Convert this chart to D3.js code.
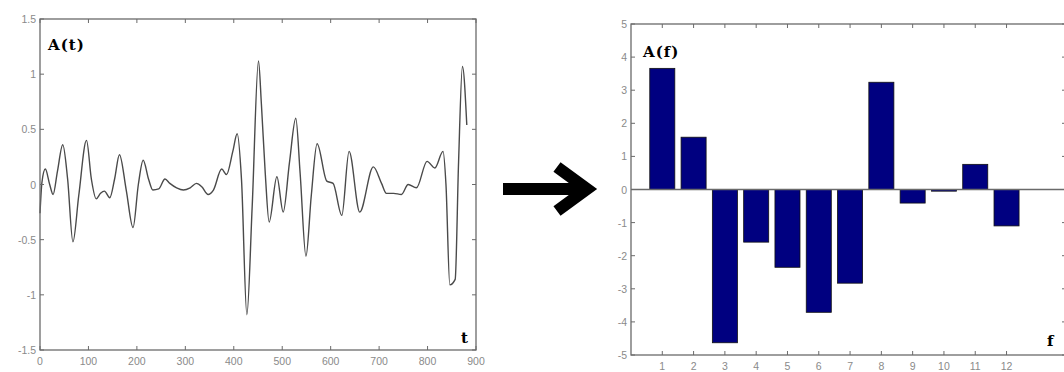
<!DOCTYPE html>
<html>
<head>
<meta charset="utf-8">
<script src="https://cdn.jsdelivr.net/npm/d3@7"></script>
<style>
  body { margin: 0; background: #fff; }
  svg { display: block; }
</style>
</head>
<body>
<svg id="chart" width="1064" height="372"></svg>
<script>
// time signal at its turning points
const timeT = [0, 4, 11, 20, 27, 36, 47, 57, 68, 80, 96, 106, 116, 125, 133, 144, 154, 164, 178, 192, 203, 213, 224, 233, 245, 258, 268, 282, 296, 310, 323, 334, 347, 358, 375, 385, 398, 407, 416, 427, 438, 451, 457, 465, 473, 489, 502, 515, 528, 537, 549, 560, 572, 592, 605, 623, 638, 660, 688, 705, 715, 730, 746, 760, 777, 799, 815, 832, 838, 846, 857, 864, 872, 881]
const timeA = [-0.26, 0.02, 0.14, 0.0, -0.09, 0.12, 0.36, 0.05, -0.52, -0.1, 0.40, 0.05, -0.13, -0.08, -0.06, -0.12, 0.05, 0.27, -0.05, -0.39, 0.0, 0.22, 0.05, -0.05, -0.04, 0.05, 0.01, -0.03, -0.05, -0.03, 0.01, -0.02, -0.09, -0.05, 0.14, 0.09, 0.3, 0.46, 0.04, -1.18, -0.2, 1.12, 0.73, 0.1, -0.34, 0.07, -0.25, 0.2, 0.60, 0.10, -0.65, -0.1, 0.37, 0.03, 0.01, -0.28, 0.30, -0.25, 0.16, 0.01, -0.08, -0.08, -0.09, 0.0, -0.03, 0.21, 0.15, 0.30, 0.0, -0.91, -0.86, 0.2, 1.07, 0.54]

// spectrum bars
const freqs = [1, 2, 3, 4, 5, 6, 7, 8, 9, 10, 11, 12]
const amps = [3.66, 1.58, -4.63, -1.59, -2.35, -3.71, -2.83, 3.24, -0.41, -0.05, 0.76, -1.1]

// tick values
const tTicks = [0, 100, 200, 300, 400, 500, 600, 700, 800, 900]
const atTicks = [-1.5, -1, -0.5, 0, 0.5, 1, 1.5]
const fTicks = [1, 2, 3, 4, 5, 6, 7, 8, 9, 10, 11, 12]
const afTicks = [-5, -4, -3, -2, -1, 0, 1, 2, 3, 4, 5]

const svg = d3.select('#chart')
const axisColor = '#6a6a6a'
const labelColor = '#8a8a8a'

function drawFrame(g, x, y, xt, yt, fmtY) {
    const [x0, x1] = x.range()
    const [y0, y1] = y.range()
    const tk = 4

    g.append('rect')
        .attr('x', x0).attr('y', y1)
        .attr('width', x1 - x0).attr('height', y0 - y1)
        .attr('fill', 'none')
        .attr('stroke', axisColor)
        .attr('stroke-width', 1.3)

    // inside ticks on all four sides
    xt.forEach(v => {
        g.append('line').attr('x1', x(v)).attr('x2', x(v)).attr('y1', y0).attr('y2', y0 - tk).attr('stroke', axisColor)
        g.append('line').attr('x1', x(v)).attr('x2', x(v)).attr('y1', y1).attr('y2', y1 + tk).attr('stroke', axisColor)
        g.append('text')
            .attr('x', x(v)).attr('y', y0 + 15)
            .attr('text-anchor', 'middle')
            .attr('font-family', 'Liberation Sans, sans-serif')
            .attr('font-size', 10.5)
            .attr('fill', labelColor)
            .text(v)
    })
    yt.forEach(v => {
        g.append('line').attr('x1', x0).attr('x2', x0 + tk).attr('y1', y(v)).attr('y2', y(v)).attr('stroke', axisColor)
        g.append('line').attr('x1', x1).attr('x2', x1 - tk).attr('y1', y(v)).attr('y2', y(v)).attr('stroke', axisColor)
        g.append('text')
            .attr('x', x0 - 4).attr('y', y(v) + 4)
            .attr('text-anchor', 'end')
            .attr('font-family', 'Liberation Sans, sans-serif')
            .attr('font-size', 10.5)
            .attr('fill', labelColor)
            .text(fmtY(v))
    })
}

function bigLabel(g, x, y, txt) {
    g.append('text')
        .attr('x', x).attr('y', y)
        .attr('font-family', 'DejaVu Serif, serif')
        .attr('font-weight', 'bold')
        .attr('font-size', 15)
        .attr('letter-spacing', 1)
        .attr('fill', '#000')
        .text(txt)
}

// ---- left panel: A(t)
const xT = d3.scaleLinear().domain([0, 900]).range([40, 476])
const yT = d3.scaleLinear().domain([-1.5, 1.5]).range([350, 19])
const left = svg.append('g')

left.append('path')
    .datum(timeT.map((t, i) => [t, timeA[i]]))
    .attr('fill', 'none')
    .attr('stroke', '#4a4a4a')
    .attr('stroke-width', 1.4)
    .attr('d', d3.line().x(d => xT(d[0])).y(d => yT(d[1])).curve(d3.curveMonotoneX))

drawFrame(left, xT, yT, tTicks, atTicks, v => String(v))
bigLabel(left, 48, 50, 'A(t)')
bigLabel(left, 461, 343, 't')

// ---- arrow
const arrow = svg.append('g').attr('stroke', '#000').attr('fill', 'none').attr('stroke-width', 12)
arrow.append('line').attr('x1', 503).attr('x2', 588).attr('y1', 189).attr('y2', 189)
arrow.append('path')
    .attr('d', 'M557,167 L587,189 L557,211')
    .attr('stroke-linejoin', 'miter')
    .attr('stroke-miterlimit', 10)

// ---- right panel: A(f)
const xF = d3.scaleLinear().domain([0, 13.9]).range([631, 1066])
const yF = d3.scaleLinear().domain([-5, 5]).range([355, 24])
const right = svg.append('g')

right.selectAll('rect.bar')
    .data(freqs)
    .join('rect')
        .attr('class', 'bar')
        .attr('x', d => xF(d - 0.4))
        .attr('width', xF(0.8) - xF(0))
        .attr('y', (d, i) => yF(Math.max(0, amps[i])))
        .attr('height', (d, i) => Math.abs(yF(amps[i]) - yF(0)))
        .attr('fill', '#000080')
        .attr('stroke', '#111')
        .attr('stroke-width', 0.8)

right.append('line')
    .attr('x1', xF.range()[0]).attr('x2', xF.range()[1])
    .attr('y1', yF(0)).attr('y2', yF(0))
    .attr('stroke', axisColor)
    .attr('stroke-width', 1.3)

drawFrame(right, xF, yF, fTicks, afTicks, v => String(v))
bigLabel(right, 643, 57, 'A(f)')
bigLabel(right, 1047, 346, 'f')
</script>
</body>
</html>
